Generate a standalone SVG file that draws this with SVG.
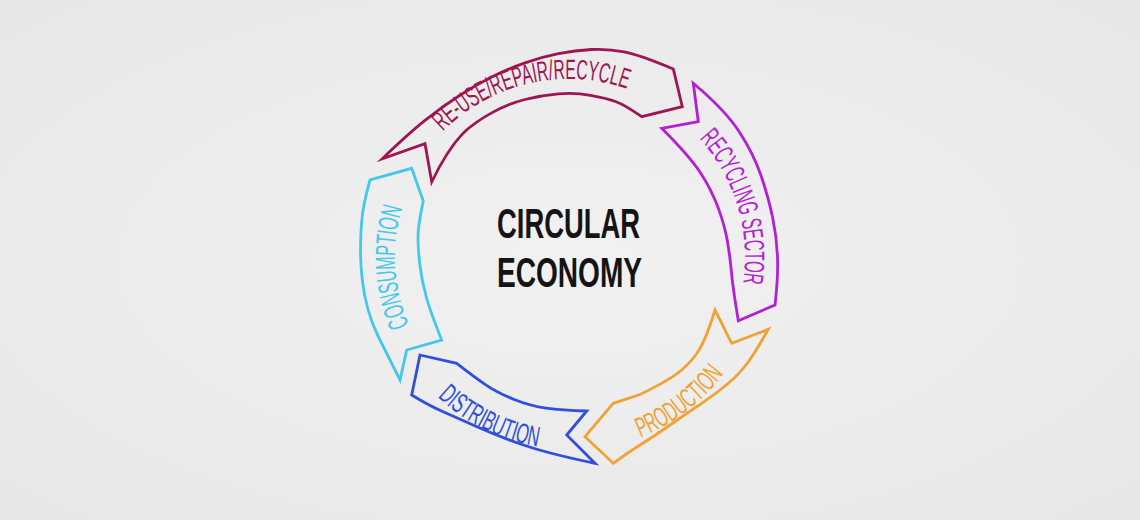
<svg xmlns="http://www.w3.org/2000/svg" width="1140" height="520" viewBox="0 0 1140 520">
  <defs>
    <radialGradient id="bgGrad" cx="0.5" cy="0.5" r="0.75">
      <stop offset="0" stop-color="#f1f1f1"/>
      <stop offset="1" stop-color="#e6e6e6"/>
    </radialGradient>
    <path id="tpReuse" d="M442.8,131.5 A178,178 0 0,1 626.6,88.6"/>
    <path id="tpRecycling" d="M699.2,138.6 A176,176 0 0,1 743,283.3"/>
    <path id="tpProduction" d="M640.4,437.4 A194,194 0 0,0 723.7,374"/>
    <path id="tpDistribution" d="M437.7,397 A192,192 0 0,0 538.3,446.5"/>
    <path id="tpConsumption" d="M409,325.3 A174,174 0 0,1 402.3,207.3"/>
  </defs>
  <style>
    .ribbon { fill: none; stroke-width: 2.8; stroke-linejoin: miter; stroke-miterlimit: 10; }
    .label { font-family: "Liberation Sans", Arial, sans-serif; font-size: 28px; font-weight: 400; }
    .title { font-family: "Liberation Sans", Arial, sans-serif; font-size: 42px; font-weight: 700; fill: #141414; }
    .reuse { stroke: #9e1552; }
    .recycling { stroke: #b41fd6; }
    .production { stroke: #f0a236; }
    .distribution { stroke: #2f4fdc; }
    .consumption { stroke: #44c7ec; }
  </style>
  <rect x="0" y="0" width="1140" height="520" fill="url(#bgGrad)"/>

  <g id="reuse">
    <path class="ribbon reuse" d="M382.3,158.7 Q408.3,133.7 425,120.4 Q441.7,107 458.4,96.2 Q475,85.3 491.7,77 Q508.3,68.7 525,62.9 Q541.7,57 558.4,53.7 Q575,50.3 591.7,49.5 Q608.3,48.7 624.2,51.9 Q640,55 673.3,69 L682.3,106.7 L641.7,116.7 Q625,105 615.5,101.5 Q606,98 590.5,95.3 Q575,92.5 558.4,93.9 Q541.7,95.3 525,99.5 Q508.3,103.7 491.7,112.9 Q475,122 463.4,132.9 Q447,150 431.7,182 L425,143.7 Z"/>
    <text class="label" fill="#9e1552"><textPath href="#tpReuse" textLength="199" lengthAdjust="spacingAndGlyphs">RE-USE/REPAIR/RECYCLE</textPath></text>
  </g>

  <g id="recycling-sector">
    <path class="ribbon recycling" d="M693.3,83.3 Q725,110 739.2,131.7 Q753.3,153.3 760.8,175 Q768.3,196.7 772.5,216.7 Q776.7,236.7 777.5,256.7 Q778.3,276.7 775,305 L738.3,320.7 Q732.7,286.7 731.4,271.7 Q730,256.7 727.5,241.7 Q725,226.7 718.4,208.4 Q711.7,190 700.9,173.4 Q690,156.7 661.7,128.3 L698.3,121.7 Z"/>
    <text class="label" fill="#b41fd6"><textPath href="#tpRecycling" textLength="156" lengthAdjust="spacingAndGlyphs">RECYCLING SECTOR</textPath></text>
  </g>

  <g id="production">
    <path class="ribbon production" d="M715,310 L731.7,343.3 L768.3,329.3 Q756.7,350 748.4,361.7 Q740,373.3 728.4,383.3 Q716.7,393.3 701.7,403.3 Q686.7,413.3 670,425 Q653.3,436.7 640,445 Q626.7,453.3 613.3,463.3 L585,436.7 L613.3,403.3 L640,394.5 Q670,380 681.7,370 Q693.3,360 700,348.4 Q706.7,336.7 715,310 Z"/>
    <text class="label" fill="#f0a236"><textPath href="#tpProduction" textLength="106" lengthAdjust="spacingAndGlyphs">PRODUCTION</textPath></text>
  </g>

  <g id="distribution">
    <path class="ribbon distribution" d="M420,355 L456.7,363.3 Q473,376 485,384.3 Q497,392.5 513.5,399.2 Q530,405.8 546,408.2 Q562,410.5 586.7,411 L566.7,435 L595,463.3 Q550,454 525,445.5 Q500,437 477.5,427 Q455,417 441.5,411 Q428,405 411.7,395 Z"/>
    <text class="label" fill="#2f4fdc"><textPath href="#tpDistribution" textLength="113" lengthAdjust="spacingAndGlyphs">DISTRIBUTION</textPath></text>
  </g>

  <g id="consumption">
    <path class="ribbon consumption" d="M370,180 Q363,205 361.8,220 Q360.5,235 360.5,250 Q360.5,265 362.3,280 Q364,295 368,309.5 Q372,324 378.5,337 Q385,350 400,380 L406.7,350 L441.7,340 Q430,311 425.9,295.5 Q421.7,280 419.9,265 Q418,250 418,237.5 Q418,225 423.3,201 L411.7,168.3 Z"/>
    <text class="label" fill="#44c7ec"><textPath href="#tpConsumption" textLength="120" lengthAdjust="spacingAndGlyphs">CONSUMPTION</textPath></text>
  </g>

  <g id="circular-economy">
    <text class="title" x="497" y="238" textLength="143" lengthAdjust="spacingAndGlyphs">CIRCULAR</text>
    <text class="title" x="497" y="287" textLength="145" lengthAdjust="spacingAndGlyphs">ECONOMY</text>
  </g>
</svg>
